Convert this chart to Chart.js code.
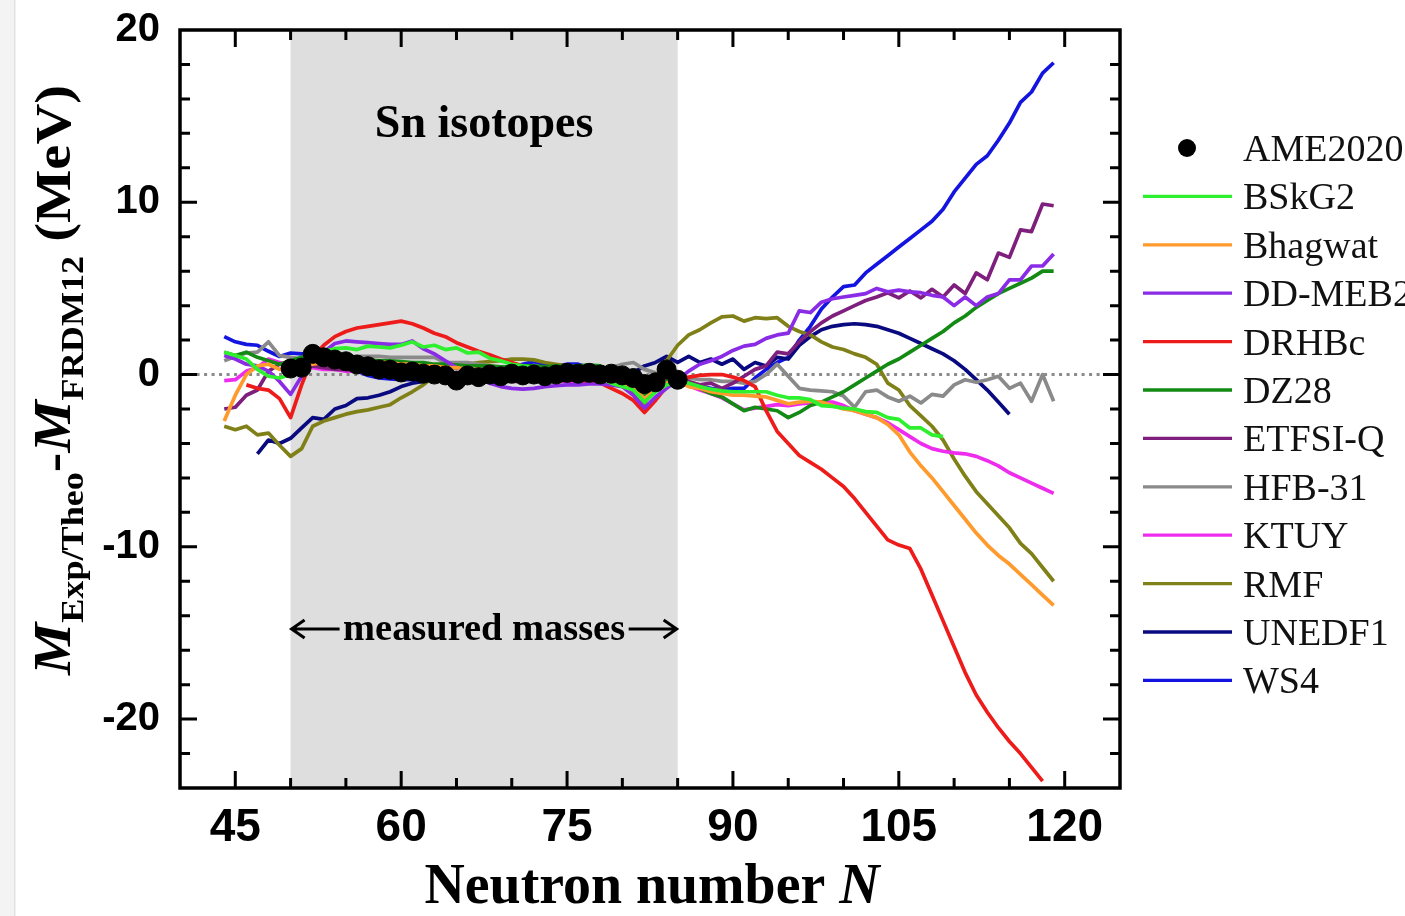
<!DOCTYPE html>
<html><head><meta charset="utf-8">
<script src="https://cdn.jsdelivr.net/npm/chart.js@4.4.1/dist/chart.umd.min.js"></script>
<style>html,body{margin:0;padding:0;background:#fff;}#wrap{width:1405px;height:916px;}</style>
</head><body><div id="wrap"><canvas id="c" width="1405" height="916"></canvas></div>
<script>
// ---- data (neutron number N starts + values in MeV) ----
const xTicks = [45, 60, 75, 90, 105, 120];
const yTicks = [-20, -10, 0, 10, 20];
const measuredRange = [50, 85];

const ameStart = 50;
const ame2020 = [0.35,0.4,1.2,1.0,0.87,0.77,0.58,0.48,0.3,0.28,
  0.12,0.18,0.05,0.0,-0.05,-0.35,-0.05,-0.15,0.0,-0.1,
  0.05,-0.05,0.0,-0.1,0.0,0.1,0.05,0.1,0.0,0.05,
  -0.05,-0.2,-0.55,-0.45,0.3,-0.3];

const bskg2Start = 44;
const bskg2 = [1.3,1.1,0.9,0.3,-0.1,-0.2,
  0.0,0.5,1.0,1.35,1.5,1.55,1.45,1.65,1.6,1.55,
  1.7,1.9,1.6,1.7,1.45,1.55,1.25,1.3,0.95,0.8,
  0.6,0.5,0.4,0.3,0.3,0.2,0.1,0.0,-0.2,-0.5,
  -0.7,-0.9,-1.6,-1.0,-0.6,-0.4,-0.5,-0.7,-0.85,-0.95,
  -1.0,-1.0,-1.0,-1.0,-1.2,-1.35,-1.35,-1.45,-1.8,-1.85,
  -1.95,-2.0,-2.15,-2.2,-2.5,-2.6,-3.1,-3.1,-3.5,-3.6];

const bhagwatStart = 44;
const bhagwat = [-2.7,-1.2,0.0,0.5,0.6,0.3,
  0.4,0.5,0.6,0.7,0.8,0.8,0.8,0.8,0.7,0.7,
  0.6,0.6,0.5,0.5,0.4,0.4,0.3,0.3,0.2,0.2,
  0.1,0.1,0.0,0.0,-0.1,-0.1,-0.2,-0.2,-0.3,-0.4,
  -0.5,-0.8,-1.4,-0.9,-0.5,-0.4,-0.7,-0.8,-1.0,-1.1,
  -1.2,-1.2,-1.25,-1.3,-1.5,-1.7,-1.6,-1.55,-1.6,-1.8,
  -2.0,-2.1,-2.3,-2.5,-2.9,-3.5,-4.5,-5.3,-6.0,-6.8,
  -7.6,-8.4,-9.2,-9.9,-10.5,-11.0,-11.6,-12.2,-12.8,-13.4];

const ddmeb2Start = 44;
const ddmeb2 = [1.1,0.9,0.6,0.5,0.2,-0.4,
  -1.15,-0.1,0.7,1.3,1.8,1.95,1.9,1.85,1.8,1.75,
  1.75,1.95,1.5,1.2,0.8,0.4,0.1,-0.2,-0.5,-0.7,
  -0.8,-0.85,-0.8,-0.7,-0.65,-0.6,-0.6,-0.55,-0.55,-0.6,
  -0.7,-1.2,-1.95,-1.3,-0.8,-0.3,0.2,0.6,0.8,1.05,
  1.4,1.65,1.75,2.1,2.3,2.4,3.7,3.6,4.2,4.4,
  4.5,4.6,4.7,5.0,4.8,4.9,4.8,4.75,4.6,4.5,
  4.0,4.5,4.0,4.5,4.7,5.5,5.5,6.3,6.3,7.0];

const drhbcStart = 46;
const drhbc = [-0.6,-0.8,-0.9,-1.4,
  -2.5,-0.6,1.0,1.7,2.2,2.5,2.7,2.8,2.9,3.0,
  3.1,2.95,2.7,2.4,2.2,1.85,1.6,1.35,1.15,0.9,
  0.7,0.5,0.3,0.1,0.0,-0.2,-0.3,-0.4,-0.5,-0.8,
  -1.1,-1.5,-2.2,-1.5,-0.7,-0.3,-0.15,-0.05,0.0,0.0,
  -0.15,-0.35,-0.7,-2.1,-3.3,-4.0,-4.7,-5.1,-5.5,-6.0,
  -6.5,-7.2,-8.0,-8.8,-9.6,-9.9,-10.1,-11.3,-12.8,-14.3,
  -15.8,-17.3,-18.6,-19.6,-20.5,-21.3,-22.0,-22.8,-23.6];

const dz28Start = 44;
const dz28 = [1.3,1.1,1.3,1.0,0.8,0.6,
  0.8,1.0,1.1,1.0,0.95,0.9,0.9,0.85,0.8,0.8,
  0.75,0.7,0.7,0.6,0.6,0.55,0.5,0.5,0.5,0.45,
  0.45,0.5,0.5,0.45,0.5,0.45,0.5,0.55,0.5,0.2,
  -0.3,-0.7,-1.2,-0.8,-0.4,-0.3,-0.5,-0.8,-1.1,-1.3,
  -1.7,-2.1,-1.9,-2.0,-2.1,-2.5,-2.2,-1.8,-1.6,-1.3,
  -1.0,-0.6,-0.2,0.2,0.6,0.9,1.3,1.7,2.1,2.5,
  3.0,3.4,3.9,4.3,4.7,5.0,5.3,5.6,6.0,6.0];

const etfsiqStart = 44;
const etfsiq = [-2.0,-1.9,-1.2,-0.9,0.2,0.6,
  0.5,0.4,0.5,0.4,0.3,0.3,0.2,0.2,0.1,0.1,
  0.0,0.0,-0.1,-0.1,-0.2,-0.2,-0.3,-0.3,-0.3,-0.4,
  -0.4,-0.4,-0.4,-0.4,-0.35,-0.35,-0.3,-0.3,-0.3,-0.3,
  -0.4,-0.6,-1.0,-0.6,-0.3,-0.3,-0.4,-0.6,-0.5,-0.8,
  -0.5,-0.1,0.3,0.5,1.3,1.2,1.9,2.5,3.0,3.4,
  3.7,4.0,4.3,4.5,4.75,4.45,4.85,4.45,4.95,4.5,
  5.2,4.7,5.9,5.5,7.05,6.8,8.4,8.3,9.9,9.8];

const hfb31Start = 44;
const hfb31 = [0.8,1.05,1.25,1.3,1.9,1.1,
  1.0,0.9,0.9,1.0,1.0,1.0,1.05,1.05,1.05,1.0,
  1.0,1.0,1.0,1.0,0.7,0.7,0.7,0.6,0.5,0.4,
  0.4,0.4,0.4,0.3,0.3,0.3,0.2,0.3,0.4,0.4,
  0.6,0.7,0.3,0.1,0.0,-0.2,-0.2,-0.3,-0.3,-0.4,
  -0.4,-0.5,-0.4,0.0,0.6,-0.1,-0.8,-0.9,-0.95,-1.0,
  -1.25,-1.9,-1.0,-0.9,-1.3,-1.55,-1.25,-1.65,-1.15,-1.25,
  -0.6,-0.3,-0.45,-0.3,-0.1,-0.8,-0.5,-1.55,0.0,-1.55];

const ktuyStart = 44;
const ktuy = [-0.35,-0.3,0.2,0.4,0.9,0.7,
  0.5,0.5,0.4,0.3,0.3,0.2,0.2,0.1,0.1,0.0,
  0.0,-0.1,-0.1,-0.2,-0.2,-0.2,-0.3,-0.3,-0.3,-0.3,
  -0.3,-0.3,-0.3,-0.35,-0.4,-0.4,-0.4,-0.4,-0.45,-0.5,
  -0.6,-0.8,-1.2,-0.8,-0.4,-0.4,-0.65,-0.9,-1.1,-1.35,
  -1.7,-2.05,-1.95,-1.85,-1.75,-1.8,-1.7,-1.65,-1.6,-1.6,
  -1.8,-2.1,-2.3,-2.5,-2.8,-3.2,-3.6,-4.0,-4.3,-4.45,
  -4.55,-4.6,-4.75,-5.0,-5.3,-5.7,-6.0,-6.3,-6.6,-6.9];

const rmfStart = 44;
const rmf = [-3.0,-3.2,-3.0,-3.5,-3.4,-4.1,
  -4.75,-4.3,-3.0,-2.7,-2.5,-2.3,-2.15,-2.05,-1.9,-1.75,
  -1.35,-1.0,-0.6,-0.1,0.2,0.4,0.6,0.7,0.75,0.8,
  0.9,0.9,0.85,0.7,0.6,0.5,0.4,0.3,0.2,-0.1,
  -0.5,-1.0,-1.7,-0.6,0.8,1.7,2.3,2.6,3.0,3.35,
  3.4,3.1,3.3,3.25,3.3,2.8,2.5,2.3,1.9,1.6,
  1.45,1.2,1.0,0.6,-0.5,-0.9,-1.8,-2.4,-3.0,-3.8,
  -4.9,-5.9,-6.8,-7.5,-8.2,-8.9,-9.8,-10.4,-11.2,-12.0];

const unedf1Start = 47;
const unedf1 = [-4.6,-3.8,-4.0,
  -3.7,-3.1,-2.5,-2.6,-2.0,-1.8,-1.4,-1.35,-1.2,-1.0,
  -0.7,-0.5,-0.4,-0.3,-0.2,-0.1,0.0,0.0,0.05,0.05,
  0.1,0.1,0.1,0.1,0.1,0.1,0.1,0.1,0.1,0.05,
  0.1,0.1,0.5,0.7,1.05,0.7,1.05,0.7,0.9,0.6,
  0.9,0.3,0.7,0.5,1.0,0.9,1.7,2.2,2.6,2.8,
  2.9,2.95,2.9,2.8,2.6,2.4,2.1,1.8,1.5,1.2,
  0.8,0.3,-0.3,-0.9,-1.6,-2.3];

const ws4Start = 44;
const ws4 = [2.2,1.9,1.75,1.7,1.35,1.05,
  1.25,1.2,1.2,1.1,0.8,0.5,0.2,-0.05,-0.2,-0.25,
  -0.3,-0.3,-0.3,-0.2,-0.1,0.0,0.1,0.2,0.3,0.35,
  0.4,0.6,0.75,0.6,0.5,0.6,0.6,0.4,0.4,0.3,
  0.2,0.0,-0.2,-0.3,-0.1,-0.2,-0.5,-0.7,-0.8,-0.9,
  -0.8,-0.8,-0.2,0.3,0.7,1.0,2.0,2.8,3.8,4.5,
  5.1,5.2,5.9,6.4,6.9,7.4,7.9,8.4,8.9,9.6,
  10.6,11.4,12.2,12.7,13.6,14.6,15.8,16.4,17.5,18.1];

function pts(start, vals){ return vals.map((v,i)=>({x:start+i, y:v})); }
function lineDs(label, color, start, vals){
  return {label, data: pts(start, vals), borderColor: color, backgroundColor: color,
    borderWidth: 3.7, pointRadius: 0, tension: 0, fill: false, borderJoinStyle: 'round'};
}

const datasets = [
  {label:'AME2020', data: pts(ameStart, ame2020), showLine:false, pointRadius:9.5,
   pointBackgroundColor:'#000', pointBorderColor:'#000', backgroundColor:'#000', borderColor:'#000'},
  lineDs('BSkG2', '#2ef02e', bskg2Start, bskg2),
  lineDs('Bhagwat', '#ff9a2c', bhagwatStart, bhagwat),
  lineDs('DD-MEB2', '#8a2be6', ddmeb2Start, ddmeb2),
  lineDs('DRHBc', '#ee1b1b', drhbcStart, drhbc),
  lineDs('DZ28', '#138a13', dz28Start, dz28),
  lineDs('ETFSI-Q', '#7e1f7e', etfsiqStart, etfsiq),
  lineDs('HFB-31', '#8a8a8a', hfb31Start, hfb31),
  lineDs('KTUY', '#ee2cee', ktuyStart, ktuy),
  lineDs('RMF', '#808018', rmfStart, rmf),
  lineDs('UNEDF1', '#0a0a80', unedf1Start, unedf1),
  lineDs('WS4', '#1414e0', ws4Start, ws4)
];

const SERIF = '"Liberation Serif", "Times New Roman", serif';

function drawRich(ctx, parts, targetW){
  let w = 0;
  parts.forEach(p => { ctx.font = p.font; p.w = ctx.measureText(p.t).width; w += p.w; });
  const s = targetW ? targetW / w : 1;
  ctx.save(); ctx.scale(s, 1);
  let xx = -w / 2;
  parts.forEach(p => { ctx.font = p.font; ctx.fillText(p.t, xx, p.dy || 0); xx += p.w; });
  ctx.restore();
}

const decor = {
  id: 'decor',
  beforeDraw(chart){
    const {ctx} = chart;
    ctx.save();
    ctx.fillStyle = '#f3f3f3'; ctx.fillRect(0, 0, 14, 916);
    ctx.fillStyle = '#e2e2e2'; ctx.fillRect(14, 0, 1.5, 916);
    ctx.restore();
  },
  beforeDatasetsDraw(chart){
    const {ctx, chartArea: a, scales: {x, y}} = chart;
    ctx.save();
    const x0 = x.getPixelForValue(measuredRange[0]), x1 = x.getPixelForValue(measuredRange[1]);
    ctx.fillStyle = '#dedede';
    ctx.fillRect(x0, a.top, x1 - x0, a.bottom - a.top);
    const y0 = y.getPixelForValue(0);
    ctx.strokeStyle = '#8a8a8a'; ctx.lineWidth = 3; ctx.setLineDash([3, 4.5]);
    ctx.beginPath(); ctx.moveTo(x.getPixelForValue(41.5), y0); ctx.lineTo(a.right, y0); ctx.stroke();
    ctx.restore();
  },
  afterDraw(chart){
    const {ctx, chartArea: a, scales: {x, y}} = chart;
    ctx.save();
    // ticks
    ctx.strokeStyle = '#000'; ctx.lineWidth = 3; ctx.setLineDash([]);
    for (let n = 45; n <= 120; n += 5) {
      const px = x.getPixelForValue(n);
      const len = xTicks.includes(n) ? 17 : 10;
      ctx.beginPath(); ctx.moveTo(px, a.bottom); ctx.lineTo(px, a.bottom - len);
      ctx.moveTo(px, a.top); ctx.lineTo(px, a.top + len); ctx.stroke();
    }
    for (let v = -22; v <= 18; v += 2) {
      const py = y.getPixelForValue(v);
      const len = yTicks.includes(v) ? 17 : 10;
      ctx.beginPath(); ctx.moveTo(a.left, py); ctx.lineTo(a.left + len, py);
      ctx.moveTo(a.right, py); ctx.lineTo(a.right - len, py); ctx.stroke();
    }
    // frame
    ctx.lineWidth = 3.5;
    ctx.strokeRect(a.left, a.top, a.right - a.left, a.bottom - a.top);

    // annotations
    ctx.fillStyle = '#000';
    ctx.textAlign = 'left'; ctx.textBaseline = 'alphabetic';
    const xm0 = x.getPixelForValue(measuredRange[0]), xm1 = x.getPixelForValue(measuredRange[1]);
    const xc = (xm0 + xm1) / 2;
    ctx.save(); ctx.translate(xc, 137);
    drawRich(ctx, [{t:'Sn isotopes', font:'bold 46px ' + SERIF}]);
    ctx.restore();
    ctx.save(); ctx.translate(xc, 640);
    drawRich(ctx, [{t:'measured masses', font:'bold 38px ' + SERIF}], 282);
    ctx.restore();
    const ay = 629;
    ctx.lineWidth = 3;
    ctx.beginPath();
    ctx.moveTo(xm0 + 1, ay); ctx.lineTo(xm0 + 49, ay);
    ctx.moveTo(xm0 + 14, ay - 9); ctx.lineTo(xm0 + 1, ay); ctx.lineTo(xm0 + 14, ay + 9);
    ctx.moveTo(xm1 - 1, ay); ctx.lineTo(xm1 - 49, ay);
    ctx.moveTo(xm1 - 14, ay - 9); ctx.lineTo(xm1 - 1, ay); ctx.lineTo(xm1 - 14, ay + 9);
    ctx.stroke();

    // axis titles
    ctx.save(); ctx.translate(652, 903);
    drawRich(ctx, [{t:'Neutron number ', font:'bold 56px ' + SERIF},
                   {t:'N', font:'italic bold 56px ' + SERIF}], 455);
    ctx.restore();
    ctx.save(); ctx.translate(70, 380); ctx.rotate(-Math.PI / 2);
    drawRich(ctx, [
      {t:'M', font:'italic bold 52px ' + SERIF},
      {t:'Exp/Theo', font:'bold 32px ' + SERIF, dy:13},
      {t:'-', font:'bold 52px ' + SERIF},
      {t:'M', font:'italic bold 52px ' + SERIF},
      {t:'FRDM12', font:'bold 32px ' + SERIF, dy:13},
      {t:' (MeV)', font:'bold 50px ' + SERIF}
    ], 590);
    ctx.restore();

    // legend
    chart.data.datasets.forEach((ds, i) => {
      const ly = 148 + i * 48.4;
      if (i === 0) {
        ctx.fillStyle = '#000';
        ctx.beginPath(); ctx.arc(1187, ly, 9, 0, Math.PI * 2); ctx.fill();
      } else {
        ctx.strokeStyle = ds.borderColor; ctx.lineWidth = 3.3;
        ctx.beginPath(); ctx.moveTo(1143, ly); ctx.lineTo(1232, ly); ctx.stroke();
      }
      ctx.fillStyle = '#111';
      ctx.font = '38px ' + SERIF;
      ctx.textAlign = 'left'; ctx.textBaseline = 'alphabetic';
      ctx.fillText(ds.label, 1243, ly + 13);
    });
    ctx.restore();
  }
};

new Chart(document.getElementById('c'), {
  type: 'line',
  data: { datasets },
  options: {
    responsive: false, animation: false, devicePixelRatio: 1,
    layout: { padding: { left: 0, right: 285, top: 30, bottom: 0 } },
    plugins: { legend: { display: false }, tooltip: { enabled: false } },
    scales: {
      x: {
        type: 'linear', min: 40, max: 125,
        afterBuildTicks: s => { s.ticks = xTicks.map(v => ({value: v})); },
        afterFit: s => { s.height = 128; },
        grid: { display: false, drawTicks: false }, border: { display: false },
        ticks: { autoSkip: false, maxRotation: 0, padding: 13, color: '#000',
          font: { family: '"Liberation Sans Narrow", "Liberation Sans", Arial, sans-serif', weight: 'bold', size: 46 } }
      },
      y: {
        type: 'linear', min: -24, max: 20,
        afterBuildTicks: s => { s.ticks = yTicks.map(v => ({value: v})); },
        afterFit: s => { s.width = 180; },
        grid: { display: false, drawTicks: false }, border: { display: false },
        ticks: { padding: 20, color: '#000',
          font: { family: '"Liberation Sans", Arial, sans-serif', weight: 'bold', size: 40, lineHeight: 0.2 } }
      }
    }
  },
  plugins: [decor]
});
</script></body></html>
